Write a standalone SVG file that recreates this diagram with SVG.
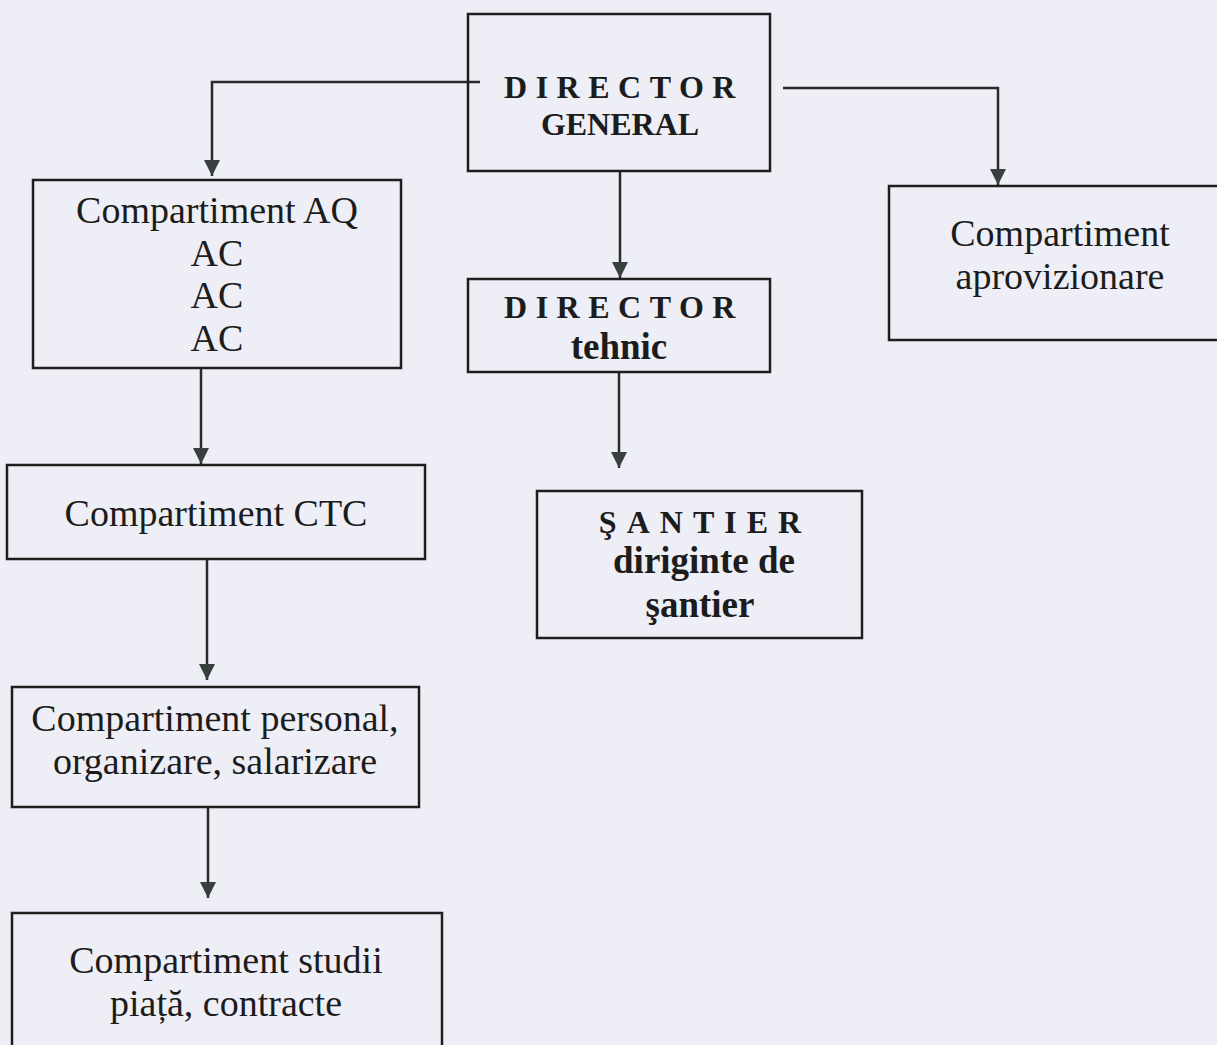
<svg xmlns="http://www.w3.org/2000/svg" width="1217" height="1045" viewBox="0 0 1217 1045">
<style>
.bg{fill:#eeeef6}
.box{fill:none;stroke:#1e1e1e;stroke-width:2.5}
.con{fill:none;stroke:#2a2a2a;stroke-width:2.5}
.t{font-family:"Liberation Serif","Times New Roman",serif;font-size:38px;fill:#1c1c1c;text-anchor:middle}
.b{font-family:"Liberation Serif","Times New Roman",serif;font-weight:bold;fill:#1c1c1c;text-anchor:middle}
.sp{font-size:32px;letter-spacing:8.5px}
.bl{font-size:37px}
</style>
<defs>
<marker id="arr" markerUnits="userSpaceOnUse" markerWidth="18" markerHeight="18" refX="16" refY="8" orient="auto">
<path d="M0,0 L16,8 L0,16 z" fill="#37403f"/>
</marker>
</defs>
<rect class="bg" x="0" y="0" width="1217" height="1045"/>
<g id="connectors">
<path class="con" d="M480,82 H212 V176" marker-end="url(#arr)"/>
<path class="con" d="M783,88 H998 V185" marker-end="url(#arr)"/>
<path class="con" d="M620,171 V278" marker-end="url(#arr)"/>
<path class="con" d="M619,373 V468" marker-end="url(#arr)"/>
<path class="con" d="M201,368 V464" marker-end="url(#arr)"/>
<path class="con" d="M207,559 V680" marker-end="url(#arr)"/>
<path class="con" d="M208,807 V898" marker-end="url(#arr)"/>
</g>
<g id="director-general">
<rect class="box" x="468" y="14" width="302" height="157"/>
<text class="b sp" x="624" y="98">DIRECTOR</text>
<text class="b" style="font-size:32px" x="620" y="135">GENERAL</text>
</g>
<g id="compartiment-aq">
<rect class="box" x="33" y="180" width="368" height="188"/>
<text class="t" x="217" y="223">Compartiment AQ</text>
<text class="t" x="217" y="266">AC</text>
<text class="t" x="217" y="308">AC</text>
<text class="t" x="217" y="351">AC</text>
</g>
<g id="compartiment-aprovizionare">
<rect class="box" x="889" y="186" width="340" height="154"/>
<text class="t" x="1060" y="246">Compartiment</text>
<text class="t" x="1060" y="289">aprovizionare</text>
</g>
<g id="director-tehnic">
<rect class="box" x="468" y="279" width="302" height="93"/>
<text class="b sp" x="624" y="318">DIRECTOR</text>
<text class="b bl" x="619" y="359">tehnic</text>
</g>
<g id="santier">
<rect class="box" x="537" y="491" width="325" height="147"/>
<text class="b sp" style="letter-spacing:10px" x="705" y="533">ŞANTIER</text>
<text class="b bl" x="704" y="573">diriginte de</text>
<text class="b bl" x="700" y="617">şantier</text>
</g>
<g id="compartiment-ctc">
<rect class="box" x="7" y="465" width="418" height="94"/>
<text class="t" x="216" y="526">Compartiment CTC</text>
</g>
<g id="compartiment-personal">
<rect class="box" x="12" y="687" width="407" height="120"/>
<text class="t" x="215" y="731">Compartiment personal,</text>
<text class="t" x="215" y="774">organizare, salarizare</text>
</g>
<g id="compartiment-studii">
<rect class="box" x="12" y="913" width="430" height="150"/>
<text class="t" x="226" y="973">Compartiment studii</text>
<text class="t" x="226" y="1016">piață, contracte</text>
</g>
</svg>
